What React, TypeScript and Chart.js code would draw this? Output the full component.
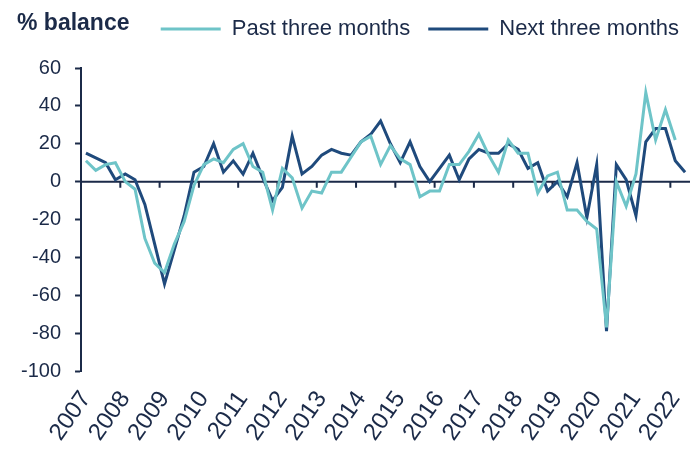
import React, { useEffect, useRef } from "react";
import { Chart, registerables } from "chart.js";

Chart.register(...registerables);

const years = ["2007", "2008", "2009", "2010", "2011", "2012", "2013", "2014", "2015", "2016", "2017", "2018", "2019", "2020", "2021", "2022"];
const quarters = ["Q1", "Q2", "Q3", "Q4"];
const categories = years.flatMap((y) => quarters.map((q) => `${y} ${q}`)).slice(0, 62);

const pastThreeMonths: (number | null)[] = [
  11, 6, 9, 10, 0, -4, -30, -43,
  -48, -33, -21, -2, 9, 12, 10, 17,
  20, 8, 5, -15, 7, 2, -14, -5,
  -6, 5, 5, 13, 21, 24, 9, 19,
  12, 9, -8, -5, -5, 9, 9, 16,
  25, 14, 5, 22, 15, 15, -6, 3,
  5, -15, -15, -21, -25, -77, 0, -13,
  4, 47, 22, 38, 22, null,
];

const nextThreeMonths: number[] = [
  15, 12.5, 10, 1, 4, 1, -12, -33,
  -54, -36, -18, 5, 8, 20, 5, 11,
  4, 15, 2, -10, -3, 24, 4, 8,
  14, 17, 15, 14, 21, 25, 32, 20,
  10, 21, 8, 0, 7, 14, 1, 12,
  17, 15, 15, 20, 17, 7, 10, -5,
  0, -8, 10, -19, 9, -79, 9, 1,
  -18, 21, 28, 28, 11, 5,
];

const yMin = -100;
const yMax = 60;
const yStep = 20;

const LIGHT = "#6EC4C8";
const DARK = "#1F4A7C";
const AXIS = "#1B2A48";
const TEXT = "#1B2A48";
const FONT = "'Liberation Sans', Arial, sans-serif";

const legendGapPlugin = {
  id: "legendGap",
  beforeInit(chart: any) {
    const legend = chart.legend;
    if (!legend) return;
    const origFit = legend.fit;
    legend.fit = function () {
      origFit.call(this);
      this.height += 18;
    };
  },
};

const zeroAxisPlugin = {
  id: "zeroAxis",
  beforeDatasetsDraw(chart: any) {
    const { ctx, chartArea, scales } = chart;
    const x = scales.x;
    const y = scales.y;
    const y0 = y.getPixelForValue(0);
    ctx.save();
    ctx.strokeStyle = AXIS;
    ctx.lineWidth = 2;
    ctx.beginPath();
    ctx.moveTo(chartArea.left, y0);
    ctx.lineTo(chartArea.right, y0);
    for (let i = 4; i < categories.length; i += 4) {
      const px = (x.getPixelForValue(i - 1) + x.getPixelForValue(i)) / 2;
      ctx.moveTo(px, y0);
      ctx.lineTo(px, y0 + 6);
    }
    ctx.stroke();
    ctx.restore();
  },
  afterDraw(chart: any) {
    const { ctx } = chart;
    ctx.save();
    ctx.fillStyle = TEXT;
    ctx.font = `bold 23px ${FONT}`;
    ctx.textBaseline = "alphabetic";
    ctx.textAlign = "left";
    ctx.fillText("% balance", 17, 30);
    ctx.restore();
  },
};

export default function App() {
  const ref = useRef<HTMLCanvasElement | null>(null);

  useEffect(() => {
    if (!ref.current) return;
    const chart = new Chart(ref.current, {
      type: "line",
      data: {
        labels: categories,
        datasets: [
          {
            label: "Past three months",
            data: pastThreeMonths,
            borderColor: LIGHT,
            backgroundColor: LIGHT,
            borderWidth: 3,
            pointRadius: 0,
            tension: 0,
            spanGaps: false,
          },
          {
            label: "Next three months",
            data: nextThreeMonths,
            borderColor: DARK,
            backgroundColor: DARK,
            borderWidth: 3,
            pointRadius: 0,
            tension: 0,
          },
        ],
      },
      options: {
        responsive: true,
        maintainAspectRatio: false,
        animation: false,
        layout: { padding: { left: 7, right: 0, top: 0, bottom: 0 } },
        plugins: {
          legend: {
            display: true,
            position: "top",
            align: "end",
            labels: {
              usePointStyle: true,
              pointStyle: "line",
              pointStyleWidth: 60,
              color: TEXT,
              font: { family: FONT, size: 22 },
              padding: 18,
            },
          },
          tooltip: { enabled: false },
        },
        scales: {
          x: {
            type: "category",
            offset: true,
            grid: { display: false, drawTicks: false },
            border: { display: false },
            afterFit: (s: any) => {
              s.paddingRight = 7;
              s.height = 79;
            },
            ticks: {
              autoSkip: false,
              maxRotation: 55,
              minRotation: 55,
              padding: 15,
              color: TEXT,
              font: { family: FONT, size: 24 },
              callback: (_v: any, i: number) => (i % 4 === 0 ? categories[i].slice(0, 4) : ""),
            },
          },
          y: {
            min: yMin,
            max: yMax,
            ticks: {
              stepSize: yStep,
              padding: 14,
              color: TEXT,
              font: { family: FONT, size: 20 },
            },
            grid: {
              drawOnChartArea: false,
              drawTicks: true,
              tickLength: 6,
              tickWidth: 2,
              tickColor: AXIS,
            },
            border: { display: true, color: AXIS, width: 2 },
          },
        },
      },
      plugins: [legendGapPlugin, zeroAxisPlugin],
    });
    return () => chart.destroy();
  }, []);

  return (
    <div style={{ position: "fixed", left: 0, top: 0, width: 697, height: 450 }}>
      <canvas ref={ref} />
    </div>
  );
}
